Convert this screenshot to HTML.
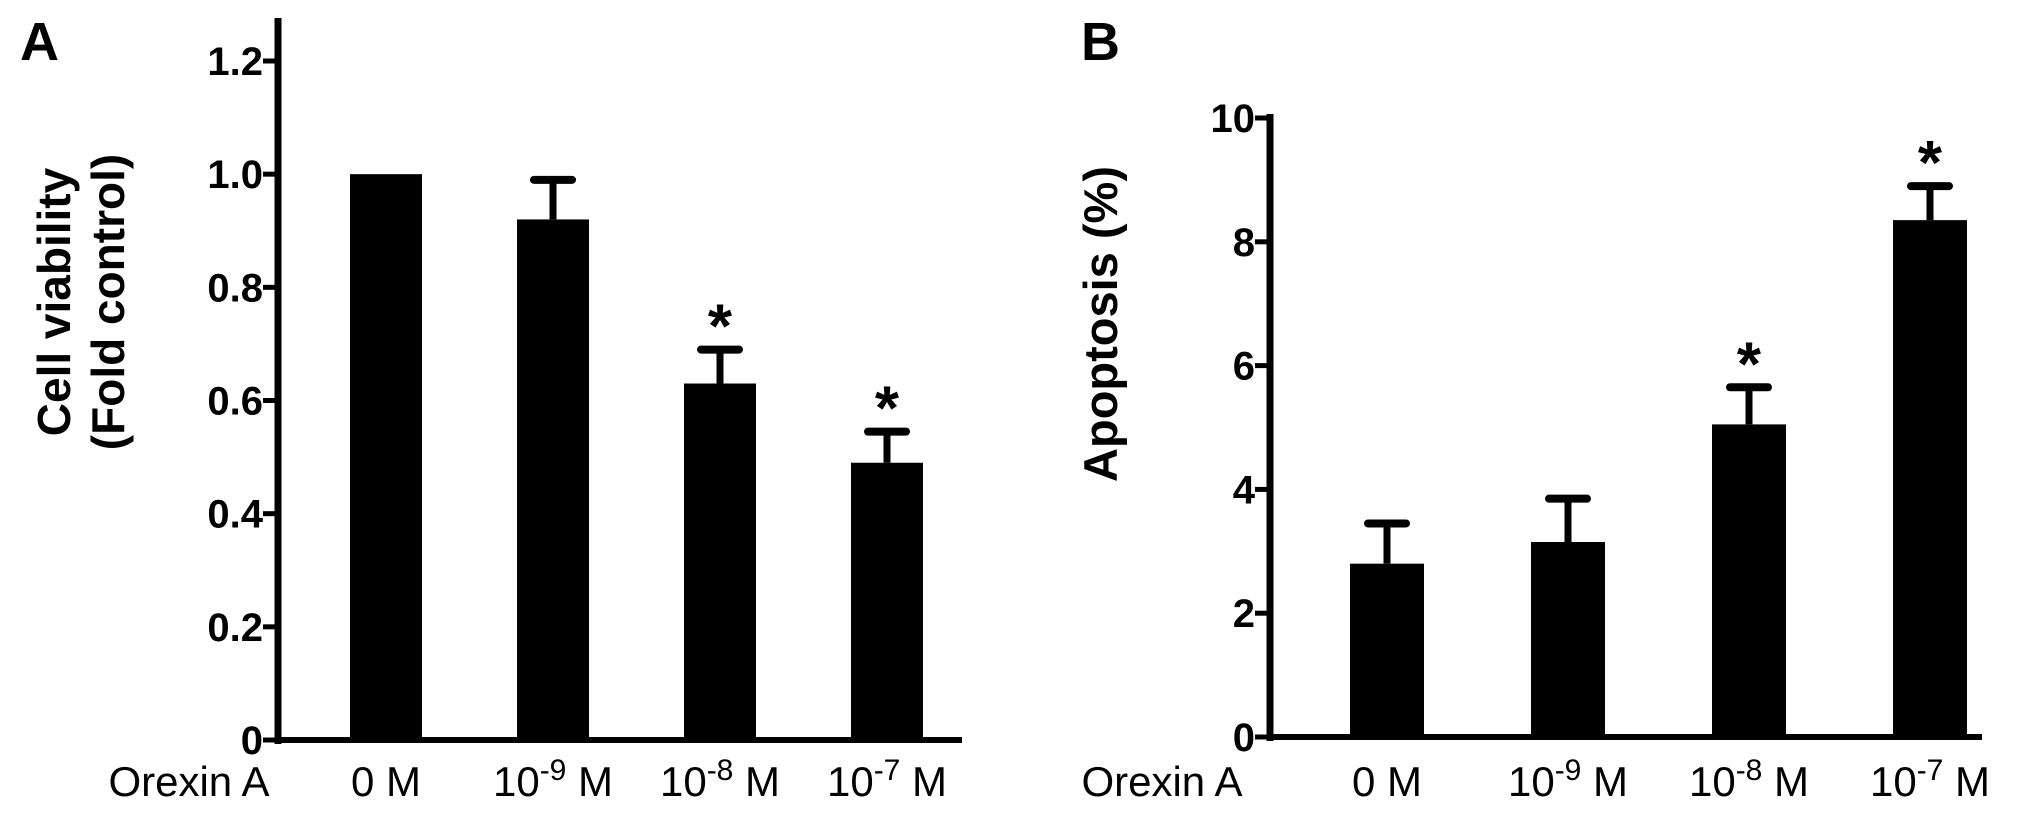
<!DOCTYPE html>
<html><head><meta charset="utf-8"><style>
html,body{margin:0;padding:0;background:#fff;}
svg{display:block;font-family:"Liberation Sans",Arial,sans-serif;}
</style></head><body>
<svg id="fig" width="2031" height="823" viewBox="0 0 2031 823">
<g id="pa"></g>
<g id="pb"></g>
</svg>
<script>
const catLabels = ["0 M", "10", "10", "10"];
const catExps = ["", "-9", "-8", "-7"];
const viability = [1.0, 0.92, 0.63, 0.49];
const viabilityErr = [0, 0.07, 0.06, 0.055];
const viabilitySig = [false, false, true, true];
const viabilityTicks = [0, 0.2, 0.4, 0.6, 0.8, 1.0, 1.2];
const viabilityTickLabels = ["0", "0.2", "0.4", "0.6", "0.8", "1.0", "1.2"];
const apoptosis = [2.8, 3.15, 5.05, 8.35];
const apoptosisErr = [0.65, 0.7, 0.6, 0.55];
const apoptosisSig = [false, false, true, true];
const apoptosisTicks = [0, 2, 4, 6, 8, 10];
const apoptosisTickLabels = ["0", "2", "4", "6", "8", "10"];

const NS = "http://www.w3.org/2000/svg";
function mk(parent, tag, attrs, text){
  const e = document.createElementNS(NS, tag);
  for (const k in attrs) e.setAttribute(k, attrs[k]);
  if (text !== undefined) e.textContent = text;
  parent.appendChild(e);
  return e;
}

function drawPanel(g, cfg){
  const y = v => cfg.y0 - (v - cfg.vmin) / (cfg.vmax - cfg.vmin) * (cfg.y0 - cfg.y1);
  const x = i => cfg.xc0 + i * cfg.step;
  const ya = mk(g, "line", {x1: cfg.ax, x2: cfg.ax, y1: cfg.axTop, y2: cfg.y0 + 4, stroke: "#000", "stroke-width": 7});
  
  
  const xa = mk(g, "line", {x1: cfg.ax - 3, x2: cfg.axRight, y1: cfg.y0, y2: cfg.y0, stroke: "#000", "stroke-width": 6});
  
  
  cfg.ticks.forEach((t, i) => {
    const tk = mk(g, "line", {x1: cfg.ax - 15, x2: cfg.ax, y1: y(t), y2: y(t), stroke: "#000", "stroke-width": 5});
    
    
    const tl = mk(g, "text", {x: cfg.ax - 15, y: y(t) + 14, "text-anchor": "end", "font-size": 40, "font-weight": "bold"}, cfg.tickLabels[i]);
    
    
  });
  cfg.values.forEach((v, i) => {
    const cx = x(i), w = cfg.bw;
    const top = v + cfg.err[i];
    if (cfg.err[i] > 0) {
      const el = mk(g, "line", {x1: cx, x2: cx, y1: y(v), y2: y(top), stroke: "#000", "stroke-width": 7});
      
      
      const cap = mk(g, "line", {x1: cx - 19, x2: cx + 19, y1: y(top), y2: y(top), stroke: "#000", "stroke-width": 8, "stroke-linecap": "round"});
      
      
    }
    const r = mk(g, "rect", {x: cx - w/2, y: y(v), width: w, height: cfg.y0 - y(v), fill: "#000"});
    
    
    if (cfg.sig[i]) {
      const s = mk(g, "text", {x: cx, y: y(top) - 2, "text-anchor": "middle", "font-size": 62, "font-weight": "bold"}, "*");
      
      
    }
    const lab = mk(g, "text", {x: cx, y: cfg.labelY, "text-anchor": "middle", "font-size": 42}, "");
    
    
    if (catExps[i]) {
      mk(lab, "tspan", {}, catLabels[i]);
      mk(lab, "tspan", {dy: -16, "font-size": 30}, catExps[i]);
      mk(lab, "tspan", {dy: 16}, " M");
    } else {
      lab.textContent = catLabels[i];
    }
  });
  const ox = mk(g, "text", {x: cfg.orexinX, y: cfg.labelY, "text-anchor": "middle", "font-size": 42}, "Orexin A");
  
  
}

const pa = document.getElementById("pa");
const pb = document.getElementById("pb");
drawPanel(pa, {vmin:0, vmax:1.2, y0:740, y1:61, ax:278, axTop:18, axRight:962, xc0:386, step:167, bw:72,
  values:viability, err:viabilityErr, sig:viabilitySig, ticks:viabilityTicks, tickLabels:viabilityTickLabels, labelY:796, orexinX:189});
drawPanel(pb, {vmin:0, vmax:10, y0:737, y1:118, ax:1270, axTop:114, axRight:1982, xc0:1387, step:181, bw:74,
  values:apoptosis, err:apoptosisErr, sig:apoptosisSig, ticks:apoptosisTicks, tickLabels:apoptosisTickLabels, labelY:796, orexinX:1162});

const A = mk(pa, "text", {x: 20, y: 60, "font-size": 54, "font-weight": "bold"}, "A");


const B = mk(pb, "text", {x: 1081, y: 60, "font-size": 54, "font-weight": "bold"}, "B");


const ta = mk(pa, "text", {transform: "translate(70,302) rotate(-90)", "text-anchor": "middle", "font-size": 46, "font-weight": "bold"}, "Cell viability");


const ta2 = mk(pa, "text", {transform: "translate(124,302) rotate(-90)", "text-anchor": "middle", "font-size": 46, "font-weight": "bold"}, "(Fold control)");


const tb = mk(pb, "text", {transform: "translate(1117,324) rotate(-90)", "text-anchor": "middle", "font-size": 47, "font-weight": "bold"}, "Apoptosis (%)");


</script>
</body></html>
